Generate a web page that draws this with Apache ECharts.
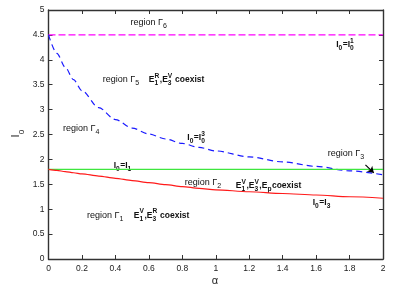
<!DOCTYPE html>
<html><head><meta charset="utf-8">
<script src="https://cdn.jsdelivr.net/npm/echarts@6/dist/echarts.min.js"></script>
<style>html,body{margin:0;padding:0;background:#fff}#c{width:411px;height:288px}</style>
</head><body><div id="c"></div>
<script>
// ---- data ----
const alpha    = [0,   0.05,  0.1,   0.15,  0.2,  0.3,   0.4,  0.5,   0.6,   0.7,   0.8,   0.9,  1.0,  1.2,  1.4,   1.6,   1.8,  2.0];
const curveI03 = [4.5, 4.13,  3.85,  3.60,  3.38, 3.04,  2.80, 2.63,  2.51,  2.41,  2.32,  2.24, 2.17, 2.05, 1.95,  1.86,  1.77, 1.69]; // I0 = I0^3 (blue dashed)
const curveI3  = [1.8, 1.778, 1.755, 1.732, 1.71, 1.665, 1.62, 1.575, 1.535, 1.495, 1.455, 1.42, 1.39, 1.35, 1.315, 1.285, 1.25, 1.22]; // I0 = I3 (red)
const levelI1 = 1.8;   // I0 = I1 (green)
const levelI01 = 4.5;  // I0 = I0^1 (magenta dashed)
const xTickLabels = ['0','0.2','0.4','0.6','0.8','1','1.2','1.4','1.6','1.8','2'];
const yTickLabels = ['0','0.5','1','1.5','2','2.5','3','3.5','4','4.5','5'];
const arrowFrom = [1.895, 1.89];
const arrowTo = [1.945, 1.73];
// annotations: [alpha, I0, tokens, bold]
const annotations = [
  [0.49, 4.74, ['region ', ['Γ','6','']], false],
  [1.72, 4.30, [['I','0',''], '=', ['I','0','1']], true],
  [0.325, 3.60, ['region ', ['Γ','5','']], false],
  [0.60, 3.60, [['E','1','R'], ',', ['E','3','V'], ' coexist'], true],
  [0.087, 2.63, ['region ', ['Γ','4','']], false],
  [0.83, 2.44, [['I','0',''], '=', ['I','0','3']], true],
  [1.67, 2.11, ['region ', ['Γ','3','']], false],
  [0.39, 1.88, [['I','0',''], '=', ['I','1','']], true],
  [0.815, 1.53, ['region ', ['Γ','2','']], false],
  [1.12, 1.47, [['E','1','V'], ',', ['E','3','V'], ',', ['E','p',''], 'coexist'], true],
  [1.58, 1.14, [['I','0',''], '=', ['I','3','']], true],
  [0.23, 0.88, ['region ', ['Γ','1','']], false],
  [0.51, 0.88, [['E','1','V'], ',', ['E','3','R'], ' coexist'], true]
];

const pairs = arr => alpha.map((a, i) => [a, arr[i]]);
const FONT = 'Liberation Sans, Arial, sans-serif';
const axisCommon = {
  type: 'value', min: 0, splitLine: {show: false},
  axisLine: {show: true, onZero: false, lineStyle: {color: '#333', width: 1.4}},
  axisTick: {show: true, inside: true, length: 4, lineStyle: {color: '#333', width: 1}}
};
const chart = echarts.init(document.getElementById('c'));
chart.setOption({
  animation: false,
  backgroundColor: '#fff',
  grid: {left: 48.5, right: 28, top: 10, bottom: 29},
  xAxis: [
    Object.assign({}, axisCommon, {max: 2, interval: 0.2, position: 'bottom',
      axisLabel: {fontSize: 8.5, color: '#222', fontFamily: FONT, margin: 5,
        formatter: (v) => xTickLabels[Math.round(v / 0.2)]}}),
    Object.assign({}, axisCommon, {max: 2, interval: 0.2, position: 'top', axisLabel: {show: false}})
  ],
  yAxis: [
    Object.assign({}, axisCommon, {max: 5, interval: 0.5, position: 'left',
      axisLabel: {fontSize: 8.5, color: '#222', fontFamily: FONT, margin: 4,
        formatter: (v) => yTickLabels[Math.round(v / 0.5)]}}),
    Object.assign({}, axisCommon, {max: 5, interval: 0.5, position: 'right', axisLabel: {show: false}})
  ],
  series: [
    {type: 'line', data: [[0, levelI01], [2, levelI01]], symbol: 'none',
      lineStyle: {color: '#ff00ff', width: 1.3, type: [7, 3]}},
    {type: 'line', data: pairs(curveI03), symbol: 'none', smooth: 0.3, smoothMonotone: 'x',
      lineStyle: {color: '#1a1aff', width: 1.2, type: [6, 4]}},
    {type: 'line', data: [[0, levelI1], [2, levelI1]], symbol: 'none',
      lineStyle: {color: '#3ee63e', width: 1.2}},
    {type: 'line', data: pairs(curveI3), symbol: 'none', smooth: 0.3, smoothMonotone: 'x',
      lineStyle: {color: '#ff1a1a', width: 1.2},
      markLine: {silent: true, symbol: ['none', 'arrow'], symbolSize: 6, label: {show: false},
        lineStyle: {color: '#000', width: 1.2, type: 'solid'},
        data: [[{coord: arrowFrom}, {coord: arrowTo}]]}}
  ]
});

// ---- annotations built as graphic text with sub/superscripts ----
const ctx = document.createElement('canvas').getContext('2d');
function measure(t, size, bold) {
  ctx.font = (bold ? 'bold ' : '') + size + 'px ' + FONT;
  return ctx.measureText(t).width;
}
const elements = [];
function addText(x, y, t, size, bold) {
  elements.push({type: 'text', x: x, y: y, silent: true,
    style: {text: t, fontSize: size, fontWeight: bold ? 'bold' : 'normal', fontFamily: FONT,
      fill: '#111', textVerticalAlign: 'middle', verticalAlign: 'middle', align: 'left'}});
}
function layout(px, py, tokens, bold, size) {
  let x = px;
  const small = size * 0.78;
  tokens.forEach(tok => {
    if (typeof tok === 'string') {
      addText(x, py, tok, size, bold);
      x += measure(tok, size, bold);
    } else {
      const [b, sub, sup] = tok;
      addText(x, py, b, size, bold);
      x += measure(b, size, bold);
      let w = 0;
      if (sub) { addText(x, py + 3.6, sub, small, bold); w = Math.max(w, measure(sub, small, bold)); }
      if (sup) { addText(x, py - 3.6, sup, small, bold); w = Math.max(w, measure(sup, small, bold)); }
      x += w + 0.5;
    }
  });
}
annotations.forEach(([a, v, tokens, bold]) => {
  const [px, py] = chart.convertToPixel({xAxisIndex: 0, yAxisIndex: 0}, [a, v]);
  layout(px, py, tokens, bold, bold ? 8.5 : 9);
});
// axis names
elements.push({type: 'text', x: 215, y: 281, silent: true,
  style: {text: 'α', fontSize: 11, fontFamily: FONT, fill: '#222', align: 'center', verticalAlign: 'middle', textVerticalAlign: 'middle'}});
elements.push({type: 'text', x: 16, y: 136, rotation: Math.PI / 2, silent: true,
  style: {text: 'I', fontSize: 11, fontFamily: FONT, fill: '#222', align: 'center', verticalAlign: 'middle', textVerticalAlign: 'middle'}});
elements.push({type: 'text', x: 22, y: 132, rotation: Math.PI / 2, silent: true,
  style: {text: '0', fontSize: 8, fontFamily: FONT, fill: '#222', align: 'center', verticalAlign: 'middle', textVerticalAlign: 'middle'}});
chart.setOption({graphic: {elements: elements}});
</script></body></html>
